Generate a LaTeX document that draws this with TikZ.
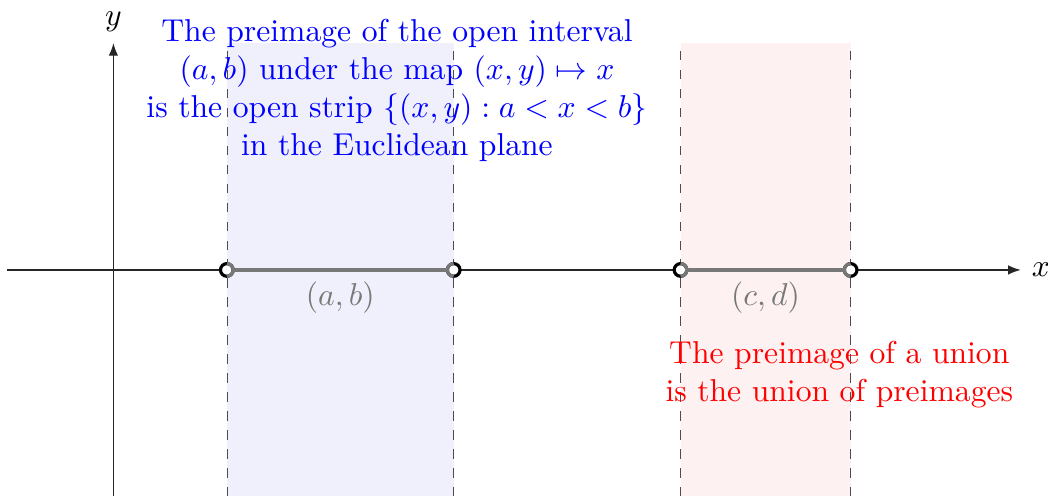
\documentclass[tikz,border=0pt]{standalone}
\usepackage{amsmath,amssymb}
\usetikzlibrary{arrows.meta,positioning}
\definecolor{stripblue}{RGB}{239,240,251}
\definecolor{stripred}{RGB}{254,241,241}
\definecolor{seggray}{RGB}{120,120,120}

\begin{document}
\begin{tikzpicture}[x=1.26cm,y=1.26cm,>={Latex[length=4pt,width=3pt]},
  edge/.style={dashed,black!70,very thin},
  seg/.style={seggray,line width=1.1pt},
  hole/.style={draw=black,fill=white,line width=1pt}]
  \useasboundingbox (-1.0,-1.99) rectangle (8.24,2.38);
  % strips
  \fill[stripblue] (1,-2) rectangle (3,2);
  \fill[stripred] (5,-2) rectangle (6.5,2);
  \foreach \p in {1,3,5,6.5} \draw[edge] (\p,-2)--(\p,2);
  % axes
  \coordinate (xs) at (-0.94,0); \coordinate (xe) at (8,0);
  \coordinate (ys) at (0,-2); \coordinate (ye) at (0,2);
  \draw[->,black!85] (xs)--(xe) node[right,black] (xl) {$x$};
  \draw[->,black!85] (ys)--(ye) node[above,black] (yl) {$y$};
  % intervals
  \coordinate (a) at (1,0); \coordinate (b) at (3,0);
  \coordinate (c) at (5,0); \coordinate (d) at (6.5,0);
  \foreach \p in {a,b,c,d} \draw[hole] (\p) circle (2pt);
  \foreach \p in {a,c} \draw[seggray,line width=1pt] ([yshift=-2pt]\p) arc (-90:90:2pt);
  \foreach \p in {b,d} \draw[seggray,line width=1pt] ([yshift=2pt]\p) arc (90:270:2pt);
  \draw[seg] ([xshift=2pt]a)--([xshift=-2pt]b) node[midway,below,seggray] (ab) {$(a,b)$};
  \draw[seg] ([xshift=2pt]c)--([xshift=-2pt]d) node[midway,below,seggray] (cd) {$(c,d)$};
  % texts
  \node[blue,align=center] (strip) at (2.5,1.58) {The preimage of the open interval\\
    $(a,b)$ under the map $(x,y)\mapsto x$\\
    is the open strip $\{(x,y) : a<x<b\}$\\
    in the Euclidean plane};
  \node[red,align=center] (union) at (6.4,-0.92) {The preimage of a union\\
    is the union of preimages};
\end{tikzpicture}
\end{document}
